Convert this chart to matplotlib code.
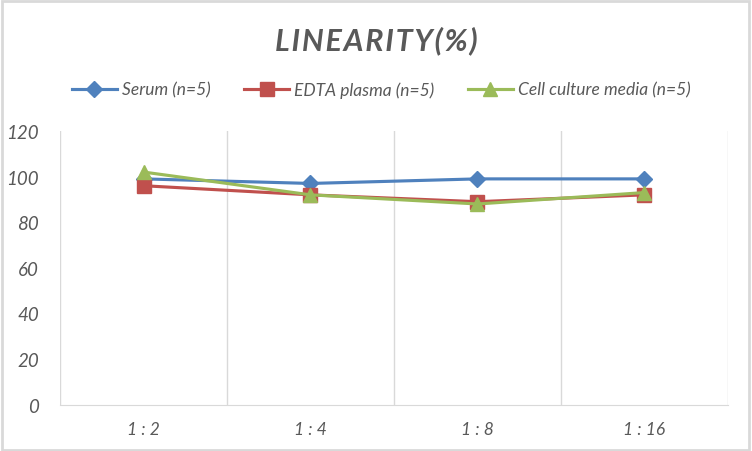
import matplotlib.pyplot as plt
from matplotlib.patches import Rectangle

# data
dilutions = ["1 : 2", "1 : 4", "1 : 8", "1 : 16"]
serum = [99, 97, 99, 99]
edta_plasma = [96, 92, 89, 92]
cell_culture = [102, 92, 88, 93]

series_names = ["Serum (n=5)", "EDTA plasma (n=5)", "Cell culture media (n=5)"]
colors = ["#4F81BD", "#C0504D", "#9BBB59"]
markers = ["D", "s", "^"]
msizes = [8, 10, 10]

plt.rcParams["font.family"] = ["Lato", "DejaVu Sans"]
text_gray = "#595959"
grid_gray = "#d9d9d9"

fig = plt.figure(figsize=(7.52, 4.52), dpi=100)
ax = fig.add_axes([0.0798, 0.1024, 0.8882, 0.6056])

x = list(range(len(dilutions)))
for vals, name, c, m, ms in zip([serum, edta_plasma, cell_culture], series_names, colors, markers, msizes):
    ax.plot(x, vals, color=c, lw=2.25, marker=m, ms=ms, label=name)

ax.set_xlim(-0.5, len(dilutions) - 0.5)
ax.set_ylim(0, 120)
ax.set_yticks(range(0, 121, 20))
ax.set_xticks(x)
ax.set_xticklabels(dilutions)
ax.set_xticks([i + 0.5 for i in range(-1, len(dilutions))], minor=True)
ax.grid(axis="x", which="minor", color=grid_gray, lw=1)
ax.tick_params(which="both", length=0)
ax.tick_params(axis="y", pad=15, labelsize=13.5, labelcolor=text_gray)
ax.tick_params(axis="x", pad=12, labelsize=12.5, labelcolor=text_gray)
for lab in ax.get_xticklabels() + ax.get_yticklabels():
    lab.set_fontstyle("italic")

for s in ["top", "left", "right"]:
    ax.spines[s].set_visible(False)
ax.spines["bottom"].set_color(grid_gray)

# letter-spaced title
title = "\u200a".join("LINEARITY(%)")
fig.text(0.5, 0.91, title, ha="center", va="center", fontsize=22,
         fontweight="bold", fontstyle="italic", color=text_gray)

leg = fig.legend(loc="center", bbox_to_anchor=(0.507, 0.80), ncol=3, frameon=False,
                 prop={"style": "italic", "size": 12.5}, handlelength=2.6,
                 columnspacing=1.9, handletextpad=0.3, labelcolor=text_gray)

fig.patches.append(Rectangle((0.002, 0.003), 0.994, 0.993, transform=fig.transFigure,
                             fill=False, edgecolor=grid_gray, lw=2))

fig.savefig("out.png", dpi=100)
